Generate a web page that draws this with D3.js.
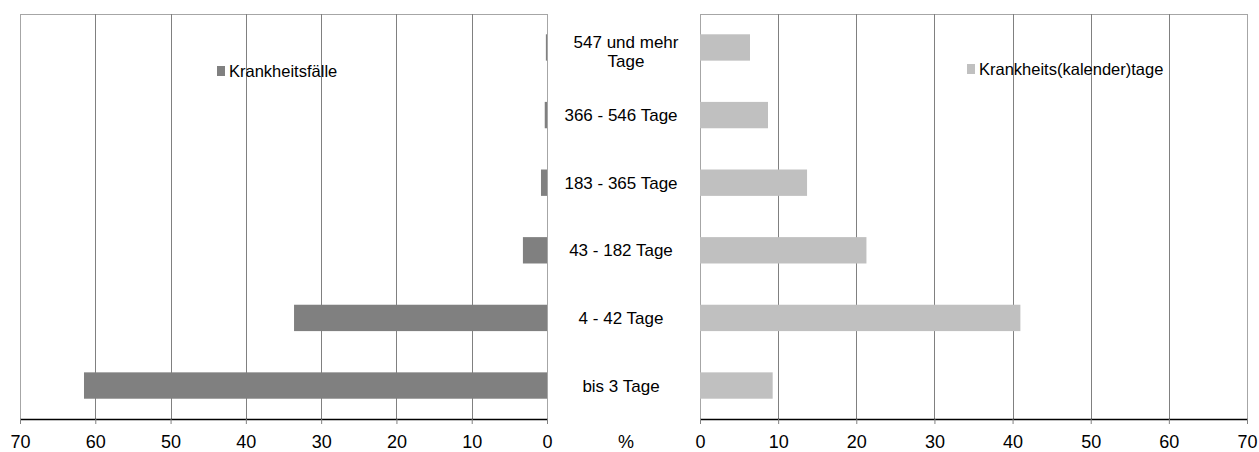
<!DOCTYPE html>
<html>
<head>
<meta charset="utf-8">
<script src="https://cdn.jsdelivr.net/npm/d3@7"></script>
<style>
  body { margin: 0; background: #fff; }
  text { font-family: "Liberation Sans", Arial, sans-serif; fill: #000; }
</style>
</head>
<body>
<svg></svg>
<script>
const categories = ["547 und mehr Tage", "366 - 546 Tage", "183 - 365 Tage", "43 - 182 Tage", "4 - 42 Tage", "bis 3 Tage"];
const faelle = [0.15, 0.3, 0.8, 3.2, 33.6, 61.5];
const tage = [6.4, 8.7, 13.7, 21.3, 41.0, 9.3];
const ticks = [0, 10, 20, 30, 40, 50, 60, 70];

const svg = d3.select("svg").attr("width", 1259).attr("height", 452);

const plotTop = 14, plotBottom = 419;
const y = d3.scaleBand().domain(categories).range([plotTop, plotBottom]).paddingInner(0.61).paddingOuter(0.3);

const xl = d3.scaleLinear().domain([70, 0]).range([20, 547]);
const xr = d3.scaleLinear().domain([0, 70]).range([700, 1247]);

function panel(x, values, color, legendLabel, legendX, legendY) {
  const g = svg.append("g");
  // border on top
  g.append("line")
    .attr("x1", d3.min(x.range())).attr("x2", d3.max(x.range()))
    .attr("y1", plotTop + 0.5).attr("y2", plotTop + 0.5)
    .attr("stroke", "#a6a6a6");
  // gridlines
  g.selectAll(".grid").data(ticks).enter().append("line")
    .attr("x1", d => Math.round(x(d)) + 0.5).attr("x2", d => Math.round(x(d)) + 0.5)
    .attr("y1", plotTop).attr("y2", plotBottom)
    .attr("stroke", d => d === 0 || d === 70 ? "#a6a6a6" : "#808080");
  // bars
  g.selectAll(".bar").data(values).enter().append("rect")
    .attr("x", d => Math.min(x(0), x(d)))
    .attr("width", d => Math.abs(x(d) - x(0)))
    .attr("y", (d, i) => y(categories[i]))
    .attr("height", y.bandwidth())
    .attr("fill", color);
  // axis
  const axis = g.append("g").attr("transform", `translate(0,${plotBottom})`)
    .call(d3.axisBottom(x).tickValues(ticks).tickSizeInner(5).tickSizeOuter(0).tickPadding(11));
  axis.select(".domain").attr("stroke", "#000").attr("stroke-width", 1.5);
  axis.selectAll(".tick line").attr("stroke", "#808080");
  axis.selectAll("text").style("font-size", "18px").attr("font-family", "Liberation Sans, Arial, sans-serif");
  // legend
  g.append("rect").attr("x", legendX).attr("y", legendY - 11).attr("width", 8).attr("height", 10).attr("fill", color);
  g.append("text").attr("x", legendX + 12).attr("y", legendY).style("font-size", "16.5px").text(legendLabel);
}

panel(xl, faelle, "#808080", "Krankheitsfälle", 217, 77);
panel(xr, tage, "#c0c0c0", "Krankheits(kalender)tage", 967, 75);

// category labels in the middle
const mid = 621;
svg.selectAll(".cat").data(categories).enter().append("text")
  .attr("text-anchor", "middle")
  .style("font-size", "17px")
  .each(function (d) {
    const t = d3.select(this);
    const cy = y(d) + y.bandwidth() / 2;
    if (d === "547 und mehr Tage") {
      t.append("tspan").attr("x", mid + 5).attr("y", cy + 1).text("547 und mehr");
      t.append("tspan").attr("x", mid + 5).attr("y", cy + 20).text("Tage");
    } else {
      t.attr("x", mid).attr("y", cy + 6).text(d);
    }
  });

svg.append("text").attr("x", 626).attr("y", 448).attr("text-anchor", "middle")
  .style("font-size", "18px").text("%");
</script>
</body>
</html>
